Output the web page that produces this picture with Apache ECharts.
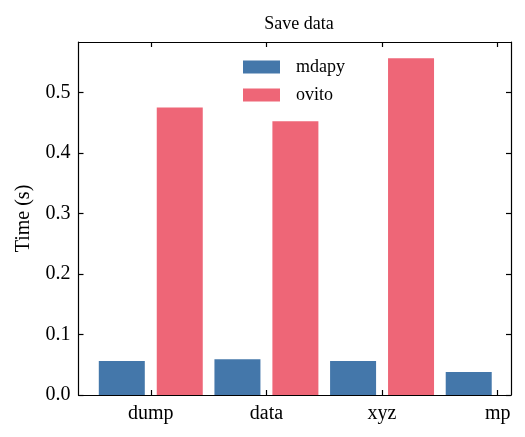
<!DOCTYPE html>
<html>
<head>
<meta charset="utf-8">
<script src="https://cdn.jsdelivr.net/npm/echarts@6/dist/echarts.min.js"></script>
<style>html,body{margin:0;padding:0;background:#fff;}#c{width:525px;height:437px;}</style>
</head>
<body>
<div id="c"></div>
<script>
var categories = ['dump', 'data', 'xyz', 'mp'];
var mdapy = [0.056, 0.059, 0.056, 0.038];
var ovito = [0.475, 0.452, 0.556, null];
var yTicks = [0, 0.1, 0.2, 0.3, 0.4, 0.5];
var xTicks = categories.map(function (c, i) { return i; });

var FONT = 'Liberation Serif';
function toPts(arr) {
  return arr.map(function (v, i) { return v == null ? [i, '-'] : [i, v]; });
}
var chart = echarts.init(document.getElementById('c'), null, {renderer: 'canvas'});
var axisLine = {show: true, onZero: false, lineStyle: {color: '#000', width: 1.2}};
var tickStyle = {color: '#000', width: 1.2};
chart.setOption({
  animation: false,
  backgroundColor: '#fff',
  title: {
    text: 'Save data', left: 294, top: 10, textAlign: 'center',
    textStyle: {fontFamily: FONT, fontSize: 18, fontWeight: 'normal', color: '#000'}
  },
  legend: {
    orient: 'vertical', left: 238, top: 53, itemWidth: 37, itemHeight: 13, itemGap: 10,
    icon: 'rect',
    data: ['mdapy', 'ovito'],
    formatter: function (n) { return '{g|}{t|' + n + '}'; },
    textStyle: {fontFamily: FONT, fontSize: 18, color: '#000', lineHeight: 16,
      rich: {g: {width: 11, lineHeight: 16}, t: {fontFamily: FONT, fontSize: 18, lineHeight: 16, color: '#000'}}}
  },
  grid: {left: 78.5, right: 14, top: 42, bottom: 42, show: false},
  xAxis: [{
    type: 'value', position: 'bottom', min: -0.625, max: 3.115,
    splitLine: {show: false}, axisLine: axisLine,
    axisTick: {show: true, inside: true, length: 5, customValues: xTicks, lineStyle: tickStyle},
    axisLabel: {customValues: xTicks, margin: 9, fontFamily: FONT, fontSize: 20, color: '#000',
      formatter: function (v) { return categories[Math.round(v)]; }}
  }, {
    type: 'value', position: 'top', min: -0.625, max: 3.115,
    splitLine: {show: false}, axisLine: axisLine,
    axisTick: {show: true, inside: true, length: 5, customValues: xTicks, lineStyle: tickStyle},
    axisLabel: {show: false}
  }],
  yAxis: [{
    type: 'value', position: 'left', min: 0, max: 0.583,
    name: 'Time (s)', nameLocation: 'middle', nameGap: 45,
    nameTextStyle: {fontFamily: FONT, fontSize: 20, color: '#000'},
    splitLine: {show: false}, axisLine: axisLine,
    axisTick: {show: true, inside: true, length: 5, customValues: yTicks, lineStyle: tickStyle},
    axisLabel: {customValues: yTicks, margin: 8, fontFamily: FONT, fontSize: 20, color: '#000',
      formatter: function (v) { return v.toFixed(1); }}
  }, {
    type: 'value', position: 'right', min: 0, max: 0.583,
    splitLine: {show: false}, axisLine: axisLine,
    axisTick: {show: true, inside: true, length: 5, customValues: yTicks, lineStyle: tickStyle},
    axisLabel: {show: false}
  }],
  series: [{
    name: 'mdapy', type: 'bar', xAxisIndex: 0, yAxisIndex: 0,
    barWidth: 46, barGap: '26%',
    itemStyle: {color: '#4477AA'},
    data: toPts(mdapy)
  }, {
    name: 'ovito', type: 'bar', xAxisIndex: 0, yAxisIndex: 0,
    barWidth: 46, barGap: '26%',
    itemStyle: {color: '#EE6677'},
    data: toPts(ovito)
  }]
});
</script>
</body>
</html>
